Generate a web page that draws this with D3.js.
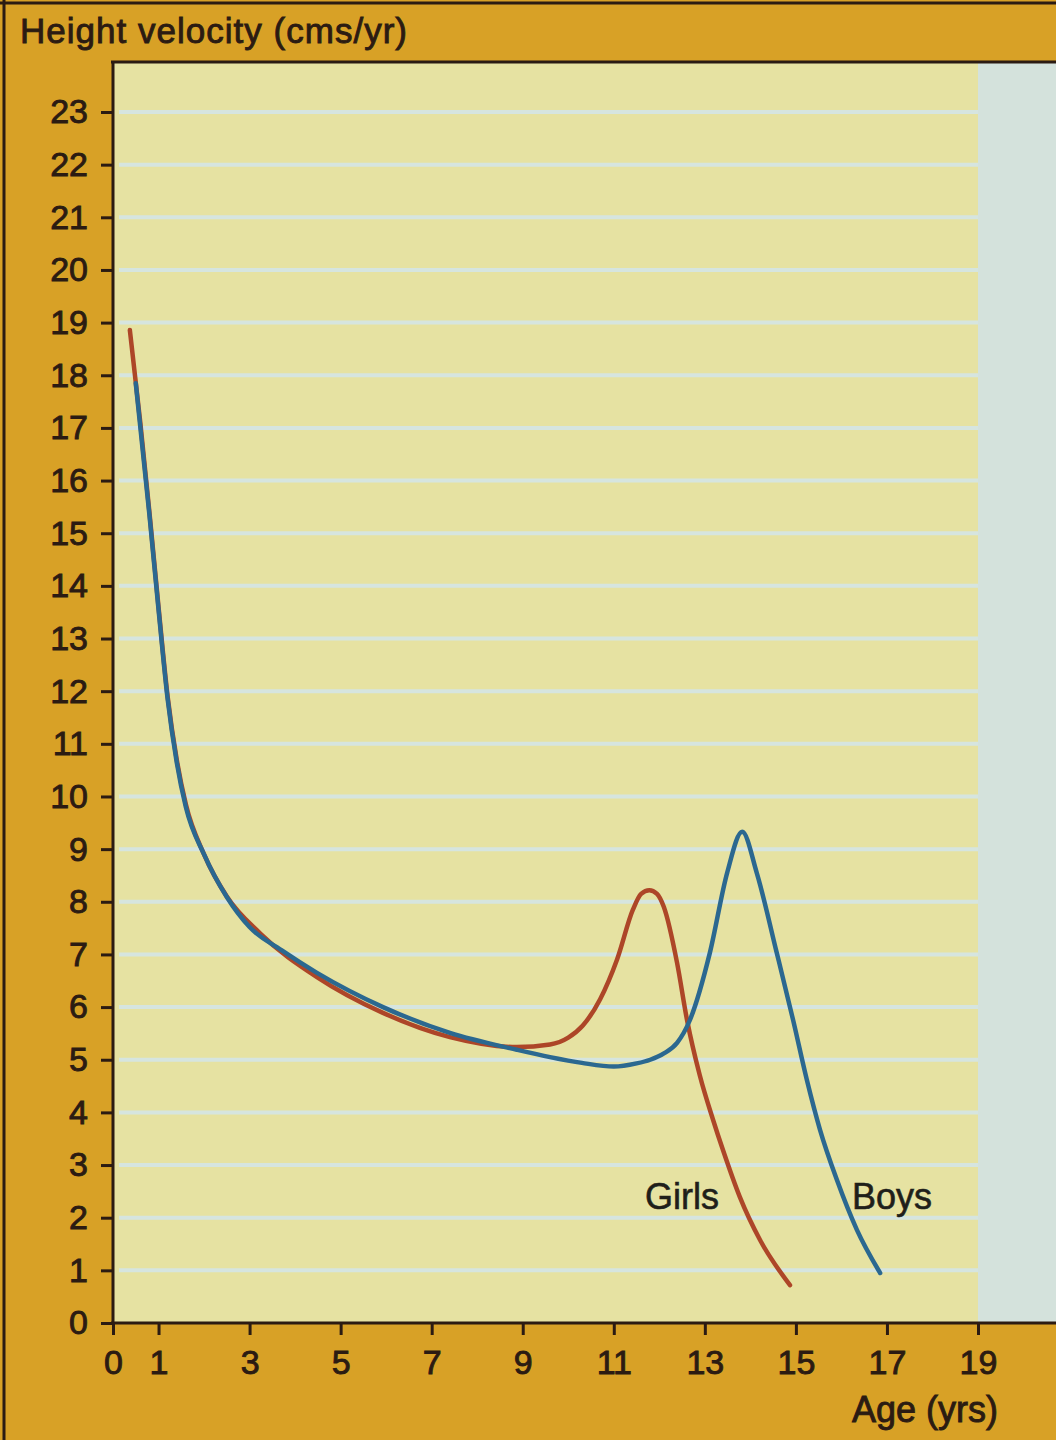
<!DOCTYPE html>
<html>
<head>
<meta charset="utf-8">
<script src="https://cdn.jsdelivr.net/npm/d3@7"></script>
<style>
	html, body { margin: 0; padding: 0; background: #d8a126; }
	svg { display: block; font-family: 'Liberation Sans', Arial, sans-serif; }
</style>
</head>
<body>
<div id="chartContainer"></div>
<script>

//============================================================
// Data
//============================================================

var girlsAge  = [0.37, 0.6, 0.8, 1.0, 1.2, 1.4, 1.6, 2.0, 2.5, 3.23, 4.48, 5.93, 7.4, 8.87, 9.6, 10.0,
                 10.32, 10.7, 11.07, 11.42, 11.6, 11.78, 11.95, 12.1, 12.39, 12.61, 12.89, 13.18, 13.4, 13.77, 14.21, 14.87],
    girlsVel  = [18.86, 17.1, 15.4, 13.6, 11.9, 10.7, 9.85, 8.9, 8.1, 7.4, 6.57, 5.89, 5.43, 5.24, 5.29, 5.42,
                 5.65, 6.15, 6.9, 7.85, 8.15, 8.22, 8.15, 7.9, 6.84, 5.75, 4.7, 3.86, 3.28, 2.39, 1.58, 0.72],
    boysAge   = [0.5, 0.8, 1.0, 1.2, 1.4, 1.6, 2.0, 2.5, 3.0, 3.7, 4.48, 5.93, 7.4, 8.87, 9.6, 10.3,
                 11.0, 11.5, 11.8, 12.1, 12.39, 12.67, 13.11, 13.49, 13.82, 14.14, 14.58, 14.94, 15.24, 15.53, 15.9, 16.34, 16.85],
    boysVel   = [17.85, 15.35, 13.55, 11.85, 10.65, 9.8, 8.9, 8.09, 7.52, 7.08, 6.65, 6.0, 5.51, 5.19, 5.05, 4.94,
                 4.87, 4.93, 5.0, 5.12, 5.32, 5.75, 7.03, 8.55, 9.33, 8.55, 7.03, 5.75, 4.62, 3.67, 2.72, 1.77, 0.95],
    xTicks    = [0, 1, 3, 5, 7, 9, 11, 13, 15, 17, 19],
    yTicks    = d3.range(0, 24),
    yTitle    = 'Height velocity (cms/yr)',
    xTitle    = 'Age (yrs)',
    seriesLbl = ['Girls', 'Boys'];

//============================================================
// Layout
//============================================================

var width      = 1056,
    height     = 1440,
    plotLeft   = 113,
    plotRight  = 978,
    plotTop    = 62,
    plotBottom = 1323,
    ink        = '#2b1b12',
    girlsCol   = '#ad4628',
    boysCol    = '#2b6890',
    fontSize   = 34;

var x = d3.scaleLinear().domain([0, 19]).range([plotLeft, plotRight]),
    y = d3.scaleLinear().domain([0, 23]).range([plotBottom, 112]);

var svg = d3.select('#chartContainer')
	.append('svg')
	.attr('width', width)
	.attr('height', height);

// orange frame
svg.append('rect')
	.attr('width', width)
	.attr('height', height)
	.attr('fill', '#d8a126');

// pale strip at the right
svg.append('rect')
	.attr('x', plotRight)
	.attr('y', plotTop)
	.attr('width', width - plotRight)
	.attr('height', plotBottom - plotTop)
	.attr('fill', '#d4e2dc');

// yellow plotting paper
svg.append('rect')
	.attr('x', plotLeft)
	.attr('y', plotTop)
	.attr('width', plotRight - plotLeft)
	.attr('height', plotBottom - plotTop)
	.attr('fill', '#e6e2a2');

// frame outline on the left and top
svg.append('line')
	.attr('x1', 4).attr('x2', 4)
	.attr('y1', 0).attr('y2', height)
	.attr('stroke', ink).attr('stroke-width', 3);

svg.append('line')
	.attr('x1', 0).attr('x2', width)
	.attr('y1', 3).attr('y2', 3)
	.attr('stroke', ink).attr('stroke-width', 3);

// GRID LINES
svg.append('g')
	.selectAll('line')
	.data(yTicks.slice(1))
	.enter()
	.append('line')
	.attr('x1', plotLeft + 6)
	.attr('x2', plotRight)
	.attr('y1', function(d){ return y(d); })
	.attr('y2', function(d){ return y(d); })
	.attr('stroke', '#d6e5df')
	.attr('stroke-width', 4);

// AXES
var yAxis = svg.append('g')
	.attr('transform', 'translate(' + plotLeft + ',0)')
	.call(d3.axisLeft(y).tickValues(yTicks).tickSize(12).tickPadding(13).tickSizeOuter(0));

var xAxis = svg.append('g')
	.attr('transform', 'translate(0,' + plotBottom + ')')
	.call(d3.axisBottom(x).tickValues(xTicks).tickSize(12).tickPadding(15).tickSizeOuter(0));

[yAxis, xAxis].forEach(function(g){
	g.select('.domain').remove();
	g.selectAll('line').attr('stroke', ink).attr('stroke-width', 3);
	g.selectAll('text')
		.attr('fill', ink)
		.attr('stroke', ink)
		.attr('stroke-width', 0.9)
		.style('font-size', fontSize + 'px');
});

// axis and top border lines
svg.append('line')
	.attr('x1', plotLeft).attr('x2', plotLeft)
	.attr('y1', plotTop).attr('y2', plotBottom + 2)
	.attr('stroke', ink).attr('stroke-width', 3);

svg.append('line')
	.attr('x1', plotLeft - 2).attr('x2', width)
	.attr('y1', plotBottom).attr('y2', plotBottom)
	.attr('stroke', ink).attr('stroke-width', 3);

svg.append('line')
	.attr('x1', plotLeft - 2).attr('x2', width)
	.attr('y1', plotTop).attr('y2', plotTop)
	.attr('stroke', ink).attr('stroke-width', 3);

// TITLES
svg.append('text')
	.attr('x', 20)
	.attr('y', 43)
	.attr('fill', ink)
	.attr('stroke', ink)
	.attr('stroke-width', 0.9)
	.attr('textLength', 387)
	.style('font-size', '35px')
	.text(yTitle);

svg.append('text')
	.attr('x', 998)
	.attr('y', 1422)
	.attr('text-anchor', 'end')
	.attr('fill', ink)
	.attr('stroke', ink)
	.attr('stroke-width', 0.9)
	.style('font-size', '36px')
	.text(xTitle);

// CURVES
var line = d3.line()
	.x(function(d){ return x(d[0]); })
	.y(function(d){ return y(d[1]); })
	.curve(d3.curveMonotoneX);

var series = [
	{ name: seriesLbl[0], pts: d3.zip(girlsAge, girlsVel), colour: girlsCol, lx: 645 },
	{ name: seriesLbl[1], pts: d3.zip(boysAge, boysVel), colour: boysCol, lx: 852 }
];

svg.append('g')
	.selectAll('path')
	.data(series)
	.enter()
	.append('path')
	.attr('d', function(d){ return line(d.pts); })
	.attr('fill', 'none')
	.attr('stroke', function(d){ return d.colour; })
	.attr('stroke-width', 4.5)
	.attr('stroke-linecap', 'round');

// SERIES LABELS
svg.append('g')
	.selectAll('text')
	.data(series)
	.enter()
	.append('text')
	.attr('x', function(d){ return d.lx; })
	.attr('y', 1209)
	.attr('fill', '#1f1f1a')
	.attr('stroke', '#1f1f1a')
	.attr('stroke-width', 0.6)
	.style('font-size', '36px')
	.text(function(d){ return d.name; });

</script>
</body>
</html>
